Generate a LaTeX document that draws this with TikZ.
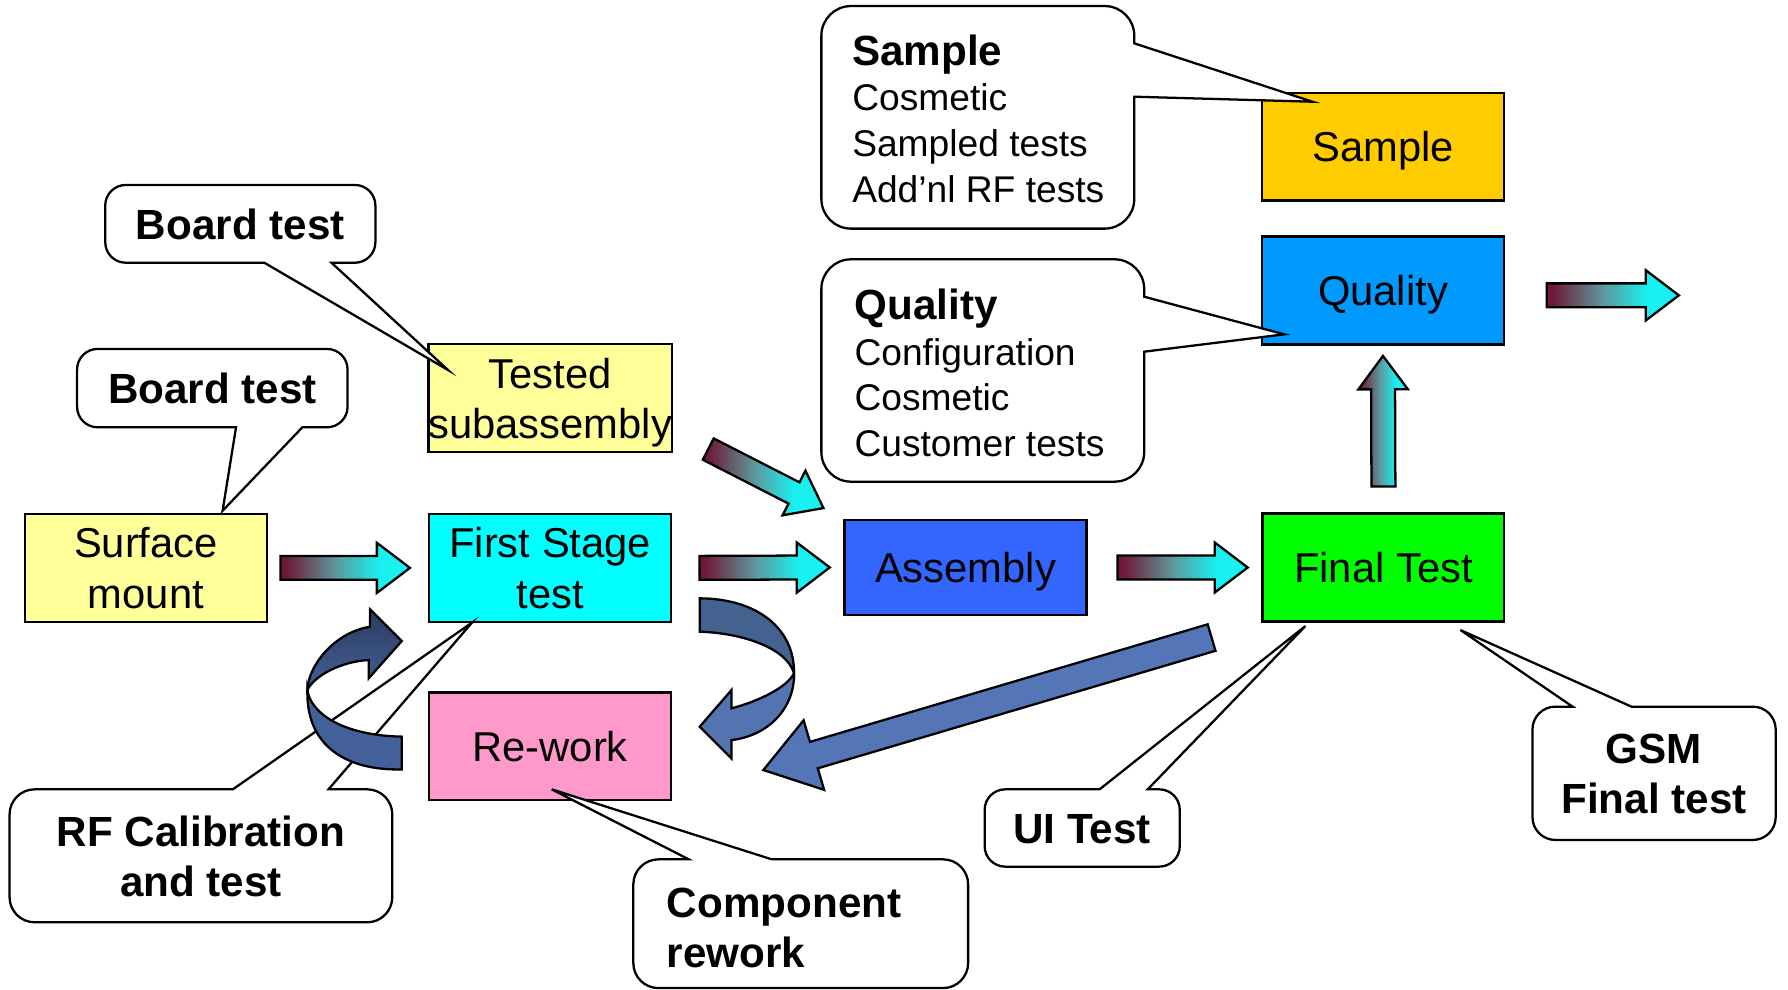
\documentclass[tikz,border=0pt]{standalone}
\usepackage{fontspec}
\setmainfont{Liberation Sans}
\usetikzlibrary{calc,positioning}

\definecolor{padyellow}{HTML}{FFFF99}
\definecolor{stagecyan}{HTML}{00FFFF}
\definecolor{reworkpink}{HTML}{FF99CC}
\definecolor{assemblyblue}{HTML}{3366FF}
\definecolor{finalgreen}{HTML}{00FF00}
\definecolor{qualityblue}{HTML}{0099FF}
\definecolor{samplegold}{HTML}{FFCC00}
\definecolor{flowdark}{RGB}{110,25,55}
\definecolor{flowmid}{RGB}{95,150,155}
\definecolor{flowlight}{RGB}{25,240,240}
\definecolor{curldark}{HTML}{2C3B5E}
\definecolor{curlmid}{HTML}{43609A}
\definecolor{curlback}{HTML}{44628F}
\definecolor{curllight}{HTML}{5274B1}
\definecolor{returnblue}{HTML}{5476B6}

\pgfdeclarehorizontalshading{flowshade}{100bp}{color(0bp)=(flowdark); color(27bp)=(flowdark); color(46bp)=(flowmid); color(63bp)=(flowlight); color(100bp)=(flowlight)}

\tikzset{
    stage/.style={draw, line width=1pt, minimum width=106pt, minimum height=47.3pt, inner sep=0pt, text depth=0pt, align=center, font=\fontsize{18.3}{22}\selectfont},
    bubble/.style={draw, fill=white, line width=1pt, line join=miter},
    bubbletext/.style={inner sep=0pt, align=center, font=\fontsize{18.5}{22}\selectfont\bfseries},
    listtext/.style={inner sep=0pt, anchor=west, align=left, font=\fontsize{16.3}{20}\selectfont},
    flow/.style={shade, shading=flowshade, draw=black, line width=1pt, line join=miter},
    returnarrow/.style={fill=returnblue, draw=black, line width=1pt, line join=miter},
    curlband/.style={draw=black, line width=1pt, line join=miter}
}

% block arrow from #2 to #3 (#4 half body, #5 half head, #6 head length)
\newcommand{\blockarrow}[6]{
    \path (#2) coordinate (ba1) (#3) coordinate (ba2);
    \pgfmathanglebetweenpoints{\pgfpointanchor{ba1}{center}}{\pgfpointanchor{ba2}{center}}
    \let\baangle\pgfmathresult
    \pgfpointdiff{\pgfpointanchor{ba1}{center}}{\pgfpointanchor{ba2}{center}}
    \pgfgetlastxy{\badx}{\bady}
    \pgfmathsetmacro{\balen}{veclen(\badx,\bady)}
    \begin{scope}[shift={(ba1)}, rotate=\baangle]
        \path[#1] (0pt,-#4) -- ({\balen pt-#6},-#4) -- ({\balen pt-#6},-#5) -- (\balen pt,0pt)
            -- ({\balen pt-#6},#5) -- ({\balen pt-#6},#4) -- (0pt,#4) -- cycle;
    \end{scope}
}
% callouts: left, top, right, bottom, corner, pointer base, pointer base, tip
\newcommand{\calloutdown}[8]{
    \draw[bubble] ({#1+#5},#2) -- ({#3-#5},#2) arc[start angle=-90,end angle=0,radius=#5]
        -- (#3,{#4-#5}) arc[start angle=0,end angle=90,radius=#5] -- (#7,#4) -- (#8) -- (#6,#4)
        -- ({#1+#5},#4) arc[start angle=90,end angle=180,radius=#5]
        -- (#1,{#2+#5}) arc[start angle=180,end angle=270,radius=#5] -- cycle;
}
\newcommand{\calloutup}[8]{
    \draw[bubble] ({#1+#5},#2) -- (#6,#2) -- (#8) -- (#7,#2) -- ({#3-#5},#2) arc[start angle=-90,end angle=0,radius=#5]
        -- (#3,{#4-#5}) arc[start angle=0,end angle=90,radius=#5]
        -- ({#1+#5},#4) arc[start angle=90,end angle=180,radius=#5]
        -- (#1,{#2+#5}) arc[start angle=180,end angle=270,radius=#5] -- cycle;
}
\newcommand{\calloutright}[8]{
    \draw[bubble] ({#1+#5},#2) -- ({#3-#5},#2) arc[start angle=-90,end angle=0,radius=#5]
        -- (#3,#6) -- (#8) -- (#3,#7)
        -- (#3,{#4-#5}) arc[start angle=0,end angle=90,radius=#5]
        -- ({#1+#5},#4) arc[start angle=90,end angle=180,radius=#5]
        -- (#1,{#2+#5}) arc[start angle=180,end angle=270,radius=#5] -- cycle;
}

\begin{document}
\begin{tikzpicture}[x=0.5pt, y=-0.5pt]
    \useasboundingbox (0,0) rectangle (1568,868);

    \node[stage, fill=padyellow] (smt) at (128,498) {Surface\\mount};
    \node[stage, fill=padyellow] (tsa) at (482.5,349.2) {Tested\\subassembly};
    \node[stage, fill=stagecyan] (fst) at (482.5,498) {First Stage\\test};
    \node[stage, fill=reworkpink] (rwk) at (482.5,654.5) {Re-work};
    \node[stage, fill=assemblyblue, minimum height=41.6pt] (asm) at (846.7,497.6) {Assembly};
    \node[stage, fill=finalgreen] (fin) at (1213.2,497.7) {Final Test};
    \node[stage, fill=qualityblue] (qua) at (1212.8,254.8) {Quality};
    \node[stage, fill=samplegold] (smp) at (1212.8,128.6) {Sample};

    \calloutdown{92.3}{162.2}{329.2}{230.4}{18}{231.8}{290.7}{392.9,324.5}
    \calloutdown{67.6}{306}{304.8}{374.7}{18}{207}{265.2}{195.2,447.9}
    \calloutup{8.4}{692.2}{344}{808.8}{22}{204.2}{288.1}{413.9,546}
    \calloutup{555.4}{753.6}{849}{866.5}{22}{604}{676.8}{483.8,692.2}
    \calloutup{863.5}{692.2}{1034.6}{760}{18}{964.3}{1006.5}{1144.8,549}
    \calloutup{1343.9}{619.7}{1557.2}{736.6}{20}{1379.1}{1430.7}{1280.7,552.5}
    \calloutright{720.3}{5.3}{994.7}{200.5}{26}{38}{84.8}{1151,89.2}
    \calloutright{720.3}{227.4}{1003.4}{422.4}{26}{260.2}{308.4}{1126.2,293.2}

    \node[bubbletext] (bt1) at (210.7,197) {Board test};
    \node[bubbletext] (bt2) at (186.2,341) {Board test};
    \node[bubbletext] (rfc) at (176.2,751) {RF Calibration\\and test};
    \node[bubbletext, anchor=west, align=left] (cpr) at (584.5,814) {Component\\rework};
    \node[bubbletext] (uit) at (949,727) {UI Test};
    \node[bubbletext] (gsm) at (1450.5,679) {GSM\\Final test};
    \node[listtext] (smpl) at (747,104) {{\fontsize{18.5}{20}\selectfont\bfseries Sample}\\Cosmetic\\Sampled tests\\Add’nl RF tests};
    \node[listtext] (qual) at (749,327) {{\fontsize{18.5}{20}\selectfont\bfseries Quality}\\Configuration\\Cosmetic\\Customer tests};

    \blockarrow{flow}{$(smt.east)+(11,0)$}{$(fst.west)+(-16,0)$}{5.25pt}{11pt}{14.5pt}
    \blockarrow{flow}{$(fst.east)+(24,0)$}{$(asm.west)+(-12,0)$}{5.25pt}{11pt}{14.5pt}
    \blockarrow{flow}{$(asm.east)+(26.3,0)$}{$(fin.west)+(-12,0)$}{5.25pt}{11pt}{14.5pt}
    \blockarrow{flow}{$(tsa.south east)+(30.8,-3.7)$}{$(asm.north west)+(-17.5,-9.4)$}{5.25pt}{11pt}{14.5pt}
    \blockarrow{flow}{$(fin.north)+(0,-22.8)$}{$(qua.south)+(0,9)$}{5.25pt}{10.85pt}{14.65pt}
    \blockarrow{flow}{$(qua.east)+(36.6,4.2)$}{$(qua.east)+(152.5,4.2)$}{5.25pt}{11pt}{14.5pt}
    \blockarrow{returnarrow}{$(fin.south west)+(-43.7,13.1)$}{$(rwk.east)+(79.9,20.8)$}{6.05pt}{15.9pt}{23.1pt}

    \path[curlband, fill=curlmid] (352.4,646) -- (352.4,674.7) .. controls (305,676) and (268,655) .. (269.6,605)
        .. controls (272,625) and (300,645) .. (352.4,646) -- cycle;
    \path[curlband, top color=curldark, bottom color=curlmid] (269.6,605) .. controls (270,585) and (292,555) .. (324.4,549.6)
        -- (324.4,534.3) -- (352.4,562.1) -- (323.3,594.9) -- (323.3,578.8) .. controls (300,580) and (276,592) .. (269.6,605) -- cycle;
    \path[curlband, fill=curlback] (613.6,524.7) .. controls (665,525) and (697,552) .. (696.3,590.5)
        .. controls (690,568) and (650,555) .. (613.6,554) -- cycle;
    \path[curlband, fill=curllight] (696.3,590.5) .. controls (697,620) and (675,645) .. (641.5,649) -- (641.5,665.1)
        -- (613.6,637.3) -- (641.5,605.1) -- (641.5,621.2) .. controls (665,615) and (690,603) .. (696.3,590.5) -- cycle;
\end{tikzpicture}
\end{document}
